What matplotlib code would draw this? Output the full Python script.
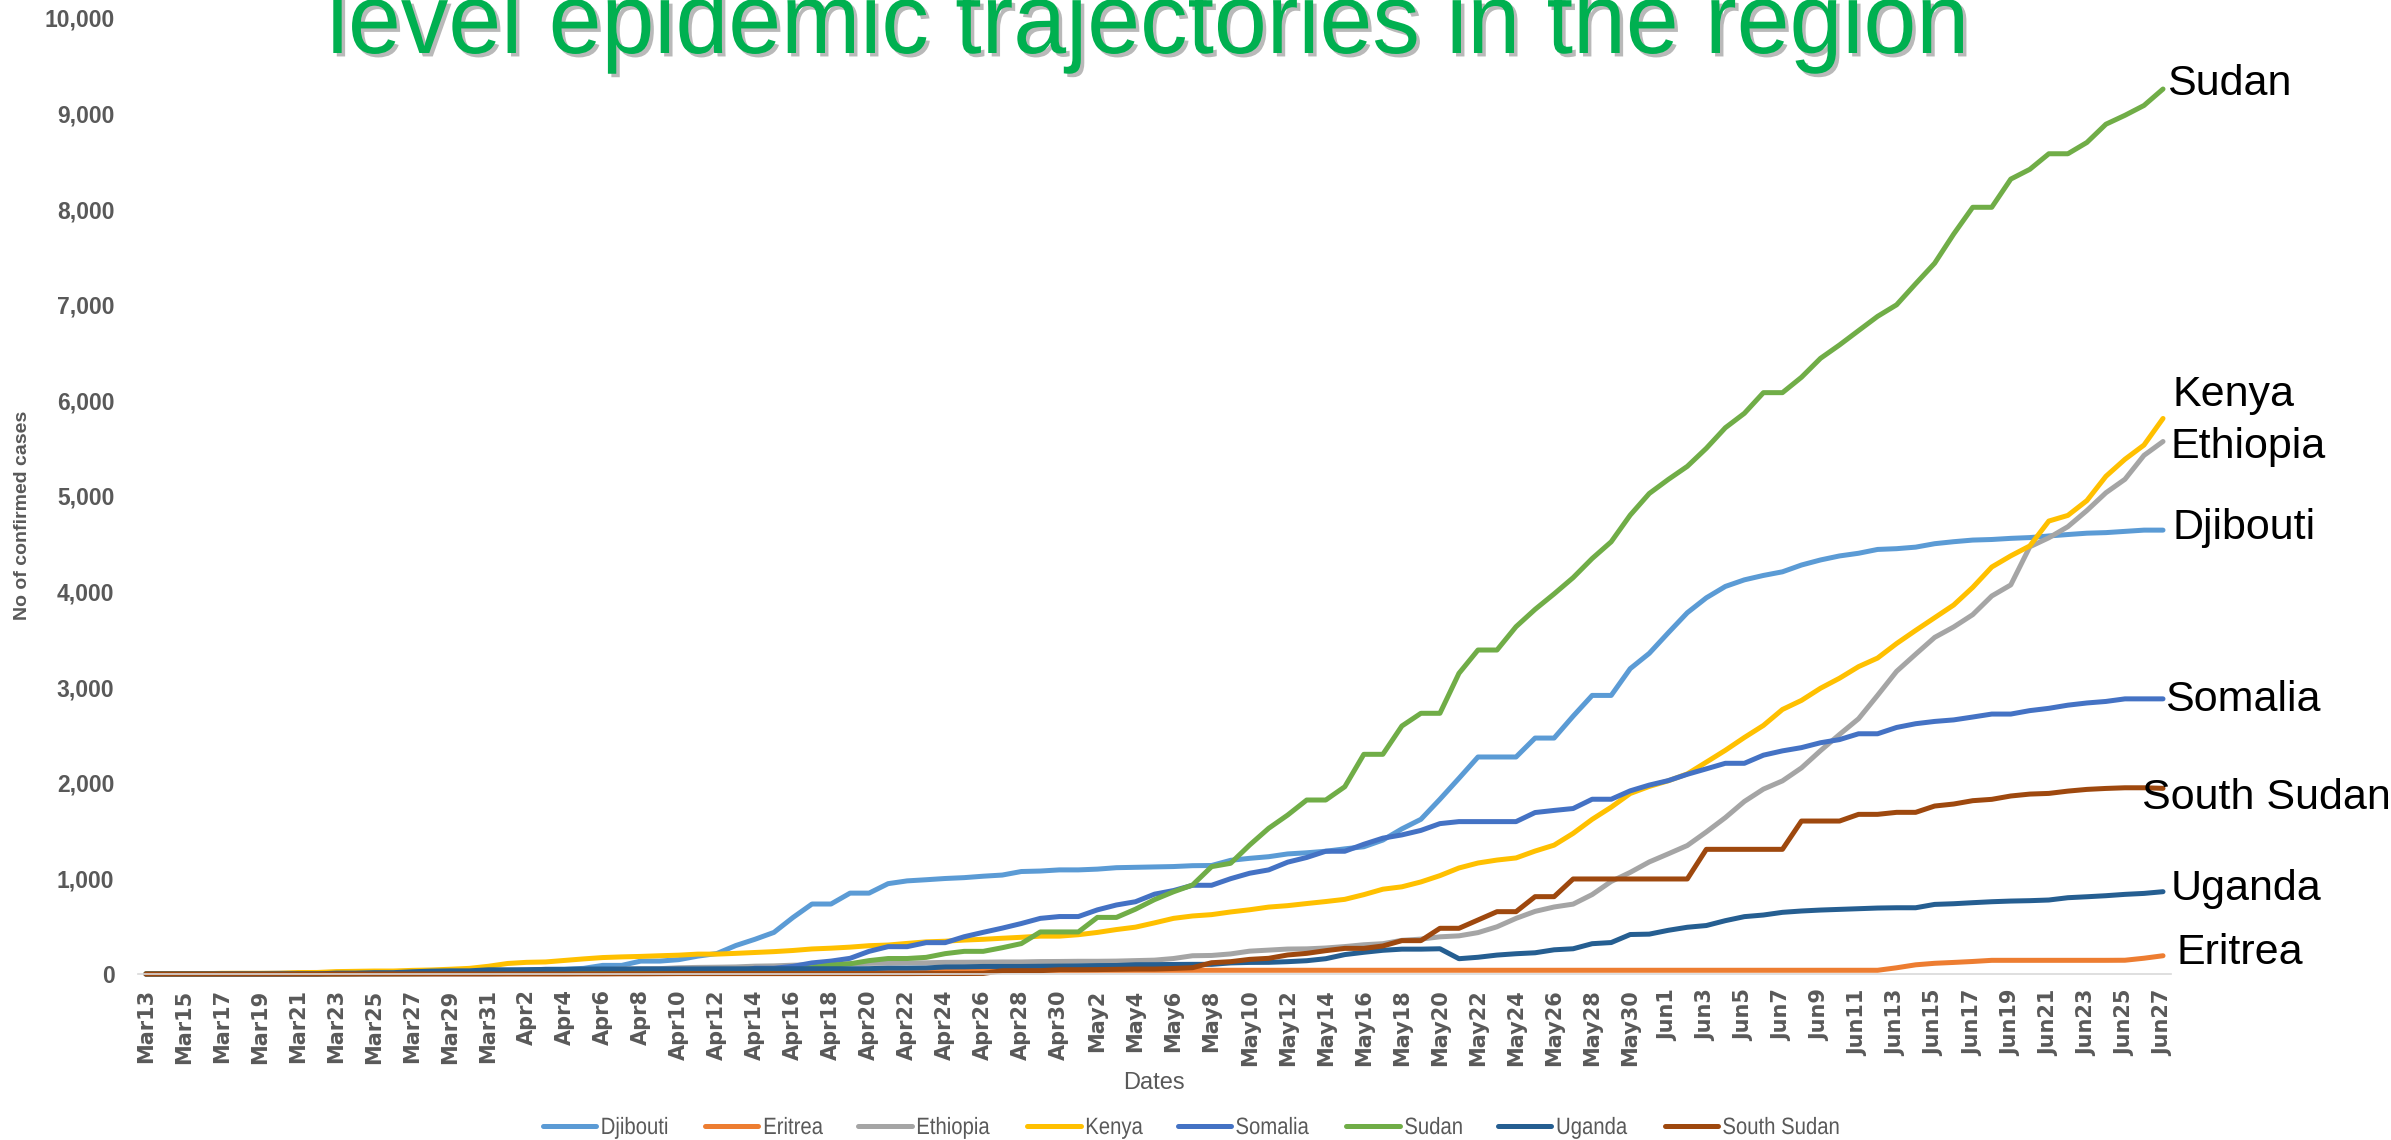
import matplotlib
matplotlib.use("Agg")
import matplotlib.pyplot as plt
import matplotlib.patheffects as pe
from matplotlib.transforms import Affine2D
from matplotlib.colors import to_rgba
import pandas as pd

# ---------------- data ----------------
dates = pd.date_range("2020-03-13", "2020-06-27", freq="D")
date_labels = [f"{d.strftime('%b')}{d.day}" for d in dates]

countries = ["Djibouti", "Eritrea", "Ethiopia", "Kenya", "Somalia", "Sudan", "Uganda", "South Sudan"]
colors = ["#5B9BD5", "#ED7D31", "#A5A5A5", "#FFC000", "#4472C4", "#70AD47", "#255E91", "#9E480E"]

djibouti = [0, 0, 0, 0, 0, 1, 1, 1, 1, 1, 3, 3, 11, 12, 14, 18, 18, 30, 31, 33,
            40, 49, 50, 59, 90, 90, 135, 135, 150, 187, 214, 298, 363, 435, 591, 732, 732, 846, 846, 945,
            974, 986, 999, 1008, 1023, 1035, 1072, 1077, 1089, 1089, 1097, 1112, 1116, 1120, 1124, 1133, 1135, 1189, 1210, 1227,
            1256, 1268, 1284, 1309, 1331, 1401, 1518, 1618, 1828, 2047, 2270, 2270, 2270, 2468, 2468, 2697, 2914, 2914, 3194, 3354,
            3569, 3779, 3935, 4054, 4123, 4169, 4207, 4278, 4331, 4373, 4401, 4441, 4449, 4465, 4501, 4522, 4539, 4545, 4557, 4565,
            4582, 4597, 4611, 4617, 4630, 4643, 4643]

eritrea = [0, 0, 0, 0, 0, 0, 0, 0, 1, 1, 1, 4, 6, 6, 12, 12, 15, 15, 15, 22,
           22, 29, 29, 31, 31, 33, 34, 34, 34, 34, 35, 35, 39, 39, 39, 39, 39, 39, 39, 39,
           39, 39, 39, 39, 39, 39, 39, 39, 39, 39, 39, 39, 39, 39, 39, 39, 39, 39, 39, 39,
           39, 39, 39, 39, 39, 39, 39, 39, 39, 39, 39, 39, 39, 39, 39, 39, 39, 39, 39, 39,
           39, 39, 39, 39, 39, 39, 39, 39, 39, 39, 39, 39, 65, 96, 112, 121, 131, 143, 143, 143,
           143, 143, 143, 143, 144, 165, 191]

ethiopia = [1, 1, 1, 5, 5, 6, 6, 9, 9, 11, 11, 12, 12, 12, 16, 16, 21, 23, 26, 29,
            29, 35, 38, 43, 44, 52, 55, 56, 65, 69, 71, 74, 82, 85, 92, 96, 105, 108, 111, 114,
            116, 117, 122, 123, 124, 126, 126, 130, 131, 133, 133, 135, 140, 145, 162, 191, 194, 210, 239, 250,
            261, 263, 272, 287, 306, 317, 352, 365, 389, 399, 433, 494, 582, 655, 701, 731, 831, 968, 1063, 1172,
            1257, 1344, 1486, 1636, 1805, 1934, 2020, 2156, 2336, 2506, 2670, 2915, 3166, 3345, 3521, 3630, 3759, 3954, 4070, 4469,
            4563, 4679, 4848, 5034, 5175, 5425, 5570]

kenya = [1, 3, 3, 3, 7, 7, 7, 7, 15, 16, 25, 28, 31, 31, 38, 42, 50, 59, 81, 110,
         122, 126, 142, 158, 172, 179, 184, 191, 197, 208, 208, 216, 225, 234, 246, 262, 270, 281, 296, 303,
         320, 336, 343, 355, 363, 374, 384, 396, 396, 411, 435, 465, 490, 535, 582, 607, 621, 649, 672, 700,
         715, 737, 758, 781, 830, 887, 912, 963, 1029, 1109, 1161, 1192, 1214, 1286, 1348, 1471, 1618, 1745, 1888, 1962,
         2021, 2093, 2216, 2340, 2474, 2600, 2767, 2862, 2989, 3094, 3215, 3305, 3457, 3594, 3727, 3860, 4044, 4257, 4374, 4478,
         4738, 4797, 4952, 5206, 5384, 5533, 5811]

somalia = [0, 0, 0, 1, 1, 1, 1, 1, 1, 1, 1, 1, 1, 2, 3, 3, 3, 3, 3, 5,
           5, 7, 7, 7, 7, 8, 12, 12, 21, 21, 21, 25, 60, 60, 80, 116, 135, 164, 237, 286,
           286, 328, 328, 390, 436, 480, 528, 582, 601, 601, 671, 722, 756, 835, 873, 928, 928, 997, 1054, 1089,
           1170, 1219, 1284, 1284, 1357, 1421, 1455, 1502, 1573, 1594, 1594, 1594, 1594, 1689, 1711, 1731, 1828, 1828, 1916, 1976,
           2023, 2089, 2146, 2204, 2204, 2289, 2334, 2368, 2419, 2452, 2513, 2513, 2579, 2618, 2642, 2658, 2688, 2719, 2719, 2755,
           2779, 2812, 2835, 2851, 2878, 2878, 2878]

sudan = [1, 1, 1, 1, 1, 1, 2, 2, 2, 2, 2, 3, 3, 3, 3, 5, 6, 6, 7, 7,
         7, 10, 10, 10, 12, 14, 14, 15, 15, 17, 19, 29, 32, 32, 33, 66, 92, 107, 140, 162,
         162, 174, 213, 237, 237, 275, 318, 440, 440, 440, 592, 592, 678, 778, 860, 931, 1123, 1158, 1349, 1524,
         1663, 1820, 1820, 1959, 2298, 2298, 2594, 2727, 2727, 3145, 3389, 3389, 3633, 3814, 3976, 4146, 4346, 4521, 4800, 5026,
         5173, 5310, 5499, 5714, 5865, 6081, 6081, 6242, 6440, 6580, 6730, 6879, 7000, 7220, 7435, 7740, 8020, 8020, 8315, 8417,
         8580, 8580, 8698, 8889, 8982, 9085, 9257]

uganda = [0, 0, 0, 0, 0, 0, 0, 0, 1, 1, 9, 9, 14, 14, 23, 30, 33, 33, 44, 44,
          45, 48, 48, 52, 52, 52, 53, 53, 53, 53, 54, 54, 55, 55, 55, 55, 55, 55, 56, 61,
          61, 63, 74, 75, 79, 79, 79, 81, 83, 85, 88, 89, 97, 98, 100, 101, 101, 116, 121, 122,
          129, 139, 160, 203, 227, 248, 260, 260, 264, 160, 175, 198, 212, 222, 253, 264, 317, 329, 413, 417,
          457, 489, 507, 558, 600, 617, 645, 659, 669, 676, 683, 690, 693, 693, 728, 735, 746, 756, 763, 767,
          774, 798, 808, 819, 833, 843, 861]

south_sudan = [0, 0, 0, 0, 0, 0, 0, 0, 0, 0, 0, 0, 0, 0, 0, 0, 0, 0, 0, 0,
               0, 0, 0, 1, 1, 2, 2, 3, 4, 4, 4, 4, 4, 4, 4, 4, 4, 4, 4, 4,
               4, 5, 5, 5, 6, 34, 35, 35, 45, 45, 46, 49, 52, 52, 58, 66, 118, 129, 153, 164,
               199, 216, 244, 268, 268, 293, 349, 349, 478, 478, 565, 652, 652, 809, 809, 994, 994, 994, 994, 994,
               994, 994, 1304, 1304, 1304, 1304, 1304, 1600, 1600, 1600, 1670, 1670, 1691, 1691, 1757, 1778, 1813, 1827, 1862, 1882,
               1889, 1913, 1931, 1941, 1948, 1948, 1942]

series = [djibouti, eritrea, ethiopia, kenya, somalia, sudan, uganda, south_sudan]

y_ticks = list(range(0, 10001, 1000))
title_text = "level epidemic trajectories in the region"

# end-of-line label positions (layout, in data units)
label_pos = {
    "Sudan": (106.2, 9310), "Kenya": (106.5, 6060), "Ethiopia": (106.4, 5510),
    "Djibouti": (106.5, 4665), "Somalia": (106.1, 2866), "South Sudan": (104.9, 1841),
    "Uganda": (106.4, 889), "Eritrea": (106.7, 220),
}


# ---------------- helpers ----------------
class Squeeze(pe.AbstractPathEffect):
    """Draw the glyph path scaled horizontally about x0 (display px), optionally as a shadow."""

    def __init__(self, sx, x0, offset=(0, 0), color=None, alpha=1.0):
        super().__init__(offset=(0, 0))
        self.sx, self.x0 = sx, x0
        self.off = offset
        self.color, self.alpha = color, alpha

    def draw_path(self, renderer, gc, tpath, affine, rgbFace=None):
        dx = renderer.points_to_pixels(self.off[0])
        dy = renderer.points_to_pixels(self.off[1])
        t = affine + Affine2D().translate(-self.x0, 0).scale(self.sx, 1).translate(self.x0 + dx, dy)
        gc0 = renderer.new_gc()
        gc0.copy_properties(gc)
        face = rgbFace
        if self.color is not None:
            face = to_rgba(self.color)
            gc0.set_alpha(self.alpha)
        gc0.set_linewidth(0)
        renderer.draw_path(gc0, tpath, t, face)
        gc0.restore()


FONT = ["Liberation Sans", "DejaVu Sans"]
GREY = "#595959"
W, H = 2391, 1140

fig = plt.figure(figsize=(W / 100, H / 100), dpi=100)
ax = fig.add_axes([138 / W, 1 - 974 / H, (2171 - 138) / W, (974 - 18) / H])

x = list(range(len(dates)))
for name, vals, col in zip(countries, series, colors):
    ax.plot(x, vals, color=col, lw=3.6, label=name, clip_on=False,
            solid_joinstyle="round", solid_capstyle="round")

ax.set_xlim(-0.42, len(dates) - 1 + 0.42)
ax.set_ylim(0, 10000)

ax.set_xticks(x[::2])
ax.set_xticklabels(date_labels[::2], rotation=90, fontsize=15, fontweight="bold",
                   color=GREY, family="DejaVu Sans")
ax.set_yticks(y_ticks)
ax.set_yticklabels([f"{v:,}" for v in y_ticks], fontsize=16.5, fontweight="bold",
                   color=GREY, family=FONT)
ax.tick_params(axis="x", length=0, pad=11)
ax.tick_params(axis="y", length=0, pad=17)

for s in ["top", "right", "left"]:
    ax.spines[s].set_visible(False)
ax.spines["bottom"].set_color("#D9D9D9")
ax.spines["bottom"].set_linewidth(1.2)

for name, (lx, ly) in label_pos.items():
    ax.text(lx, ly, name, fontsize=31, color="black", family=FONT,
            ha="left", va="center", clip_on=False)

fig.text(23 / W, 1 - 515 / H, "No of confirmed cases", rotation=90,
         fontsize=14, fontweight="bold", color=GREY, family=FONT,
         ha="center", va="center")
fig.text(1154 / W, 1 - 1083 / H, "Dates", fontsize=17, color=GREY,
         family=FONT, ha="center", va="center")

title_x = 1148
fig.text(title_x / W, 1 - 53 / H, title_text, fontsize=72, color="#00B050",
         family=FONT, ha="center", va="baseline",
         path_effects=[Squeeze(0.95, title_x, offset=(2.5, -2.5), color="#808080", alpha=0.55),
                       Squeeze(0.95, title_x)])

LEG_SQ = 0.86
leg = fig.legend(loc="center", bbox_to_anchor=(1201 / W, 1 - 1128 / H), ncol=8,
                 frameon=False, handlelength=2.25, handletextpad=0.2, columnspacing=1.08,
                 prop={"family": FONT, "size": 17})
for t in leg.get_texts():
    t.set_color(GREY)
for h in leg.legend_handles:
    h.set_linewidth(3.6)

# condense the legend texts (Calibri-like narrow look) about their own left edges
fig.canvas.draw()
for t in leg.get_texts():
    x0 = t.get_window_extent().x0
    t.set_path_effects([Squeeze(LEG_SQ, x0)])

fig.savefig("out.png", dpi=100)
